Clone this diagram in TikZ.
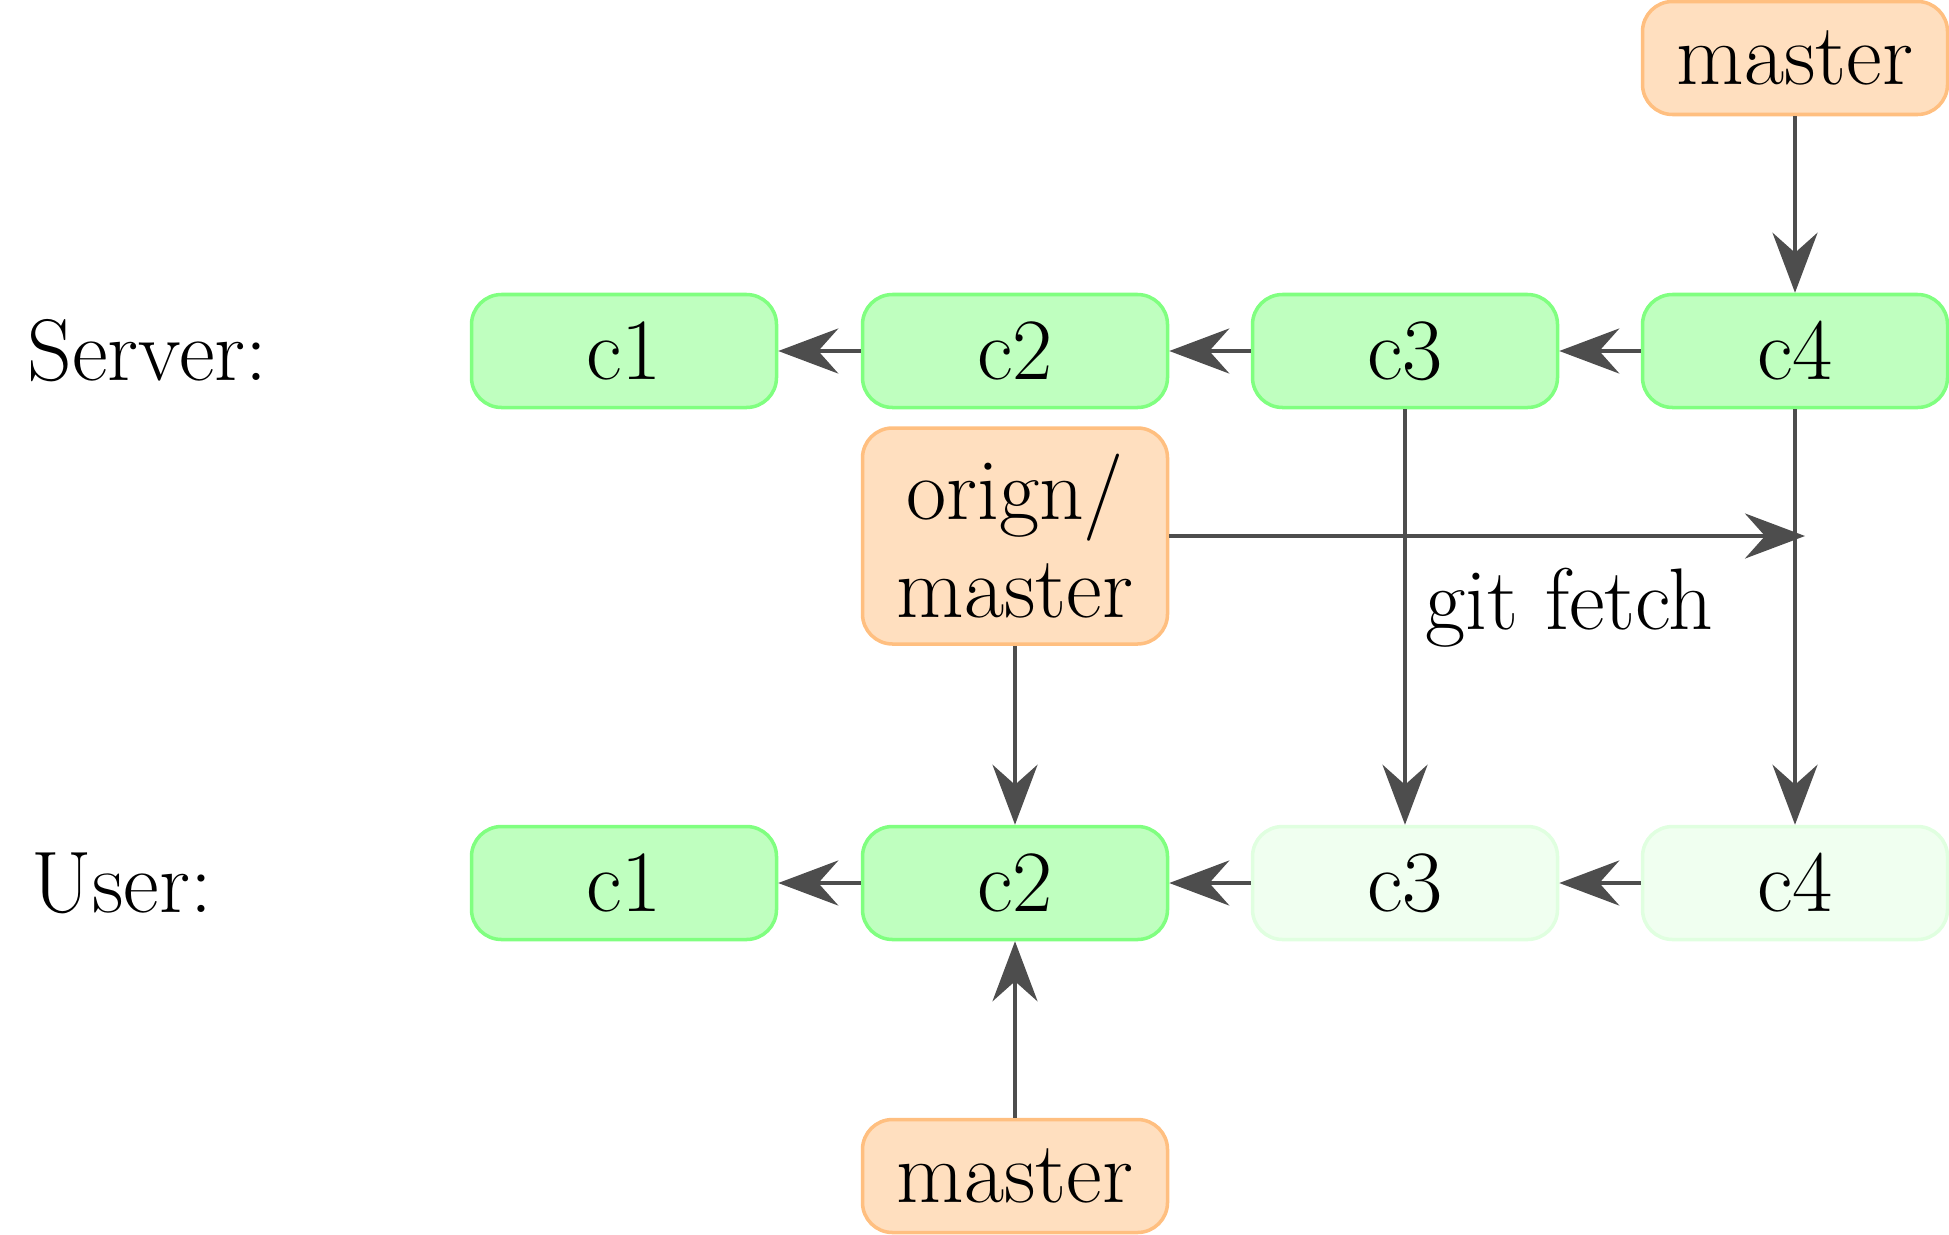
\documentclass[tikz,border=0pt]{standalone}
\usetikzlibrary{arrows.meta}
\definecolor{gfill}{RGB}{191,255,191}
\definecolor{gdraw}{RGB}{128,255,128}
\definecolor{ffill}{RGB}{240,255,240}
\definecolor{fdraw}{RGB}{224,255,224}
\definecolor{ofill}{RGB}{255,223,191}
\definecolor{odraw}{RGB}{255,191,128}
\definecolor{arr}{RGB}{77,77,77}
\tikzset{
  commit/.style={draw=gdraw, fill=gfill, line width=1pt, rounded corners=0.3cm,
    minimum width=3.05cm, minimum height=1.13cm, inner sep=0pt, font=\Huge},
  faded/.style={commit, draw=fdraw, fill=ffill},
  branch/.style={draw=odraw, fill=ofill, line width=1pt, rounded corners=0.3cm,
    minimum width=3.05cm, minimum height=1.13cm, inner sep=0pt, font=\Huge, align=center},
  lbl/.style={font=\Huge, inner sep=0pt, anchor=west},
  link/.style={draw=arr, line width=1.2pt, -{Stealth[length=0.6cm, width=0.45cm, inset=0.2cm]}}
}
\begin{document}
\begin{tikzpicture}
\useasboundingbox (0,0) rectangle (19.49,12.34);
\node[lbl] (srv) at (0.27,8.83) {Server:};
\node[lbl] (usr) at (0.31,3.51) {User:};
\node[commit] (sc1) at (6.24,8.83) {c1};
\node[commit] (sc2) at (10.15,8.83) {c2};
\node[commit] (sc3) at (14.05,8.83) {c3};
\node[commit] (sc4) at (17.95,8.83) {c4};
\node[commit] (uc1) at (6.24,3.51) {c1};
\node[commit] (uc2) at (10.15,3.51) {c2};
\node[faded] (uc3) at (14.05,3.51) {c3};
\node[faded] (uc4) at (17.95,3.51) {c4};
\node[branch] (mtop) at (17.95,11.76) {master};
\node[branch, minimum height=2.16cm] (orig) at (10.15,6.98) {orign/\\[-2pt]master};
\node[branch] (mbot) at (10.15,0.58) {master};
\coordinate (fend) at (18.05,6.98);
\draw[link] (sc2) -- (sc1);
\draw[link] (sc3) -- (sc2);
\draw[link] (sc4) -- (sc3);
\draw[link] (uc2) -- (uc1);
\draw[link] (uc3) -- (uc2);
\draw[link] (uc4) -- (uc3);
\draw[link] (mtop) -- (sc4);
\draw[link] (sc3) -- (uc3);
\draw[link] (sc4) -- (uc4);
\draw[link] (orig) -- (uc2);
\draw[link] (mbot) -- (uc2);
\draw[link] (orig.east) -- (fend) node[pos=0.4, below right, font=\Huge, inner sep=0pt, yshift=-0.3cm] (gf) {git fetch};
\end{tikzpicture}
\end{document}
